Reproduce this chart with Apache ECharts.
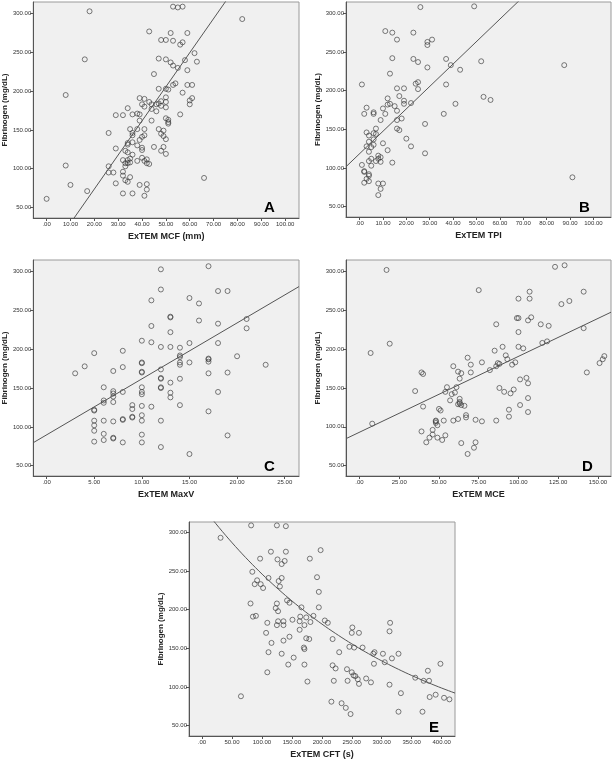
<!DOCTYPE html>
<html>
<head>
<meta charset="utf-8">
<style>
html,body{margin:0;padding:0;background:#fff;}
#chart{width:613px;height:760px;}
</style>
<script src="https://cdn.jsdelivr.net/npm/echarts@6/dist/echarts.min.js"></script>
</head>
<body>
<div id="chart"></div>
<script>
// ExTEM parameters against fibrinogen (mg/dL), [x, fibrinogen]
var mcfData = [[0,61],[18,303],[8,195],[16,241],[8,104],[10,79],[17,71],[82,293],[66,88],[53,309],[55,308],[57,309],[43,277],[52,275],[59,275],[48,266],[50,266],[53,265],[57,263],[56,260],[62,249],[47,242],[50,241],[52,237],[53,233],[58,240],[55,230],[63,238],[59,227],[45,222],[53,208],[54,210],[59,208],[61,208],[47,203],[50,203],[51,202],[57,198],[50,192],[60,188],[61,191],[60,183],[39,191],[41,190],[43,186],[44,183],[46,183],[47,184],[48,187],[50,186],[40,183],[41,180],[48,181],[50,179],[44,177],[34,178],[29,169],[32,169],[38,171],[39,170],[36,170],[46,174],[56,170],[50,165],[51,163],[51,160],[51,158],[44,162],[39,162],[35,151],[36,146],[38,151],[41,151],[47,151],[49,149],[48,145],[49,142],[50,138],[26,146],[36,143],[41,143],[40,141],[34,133],[34,131],[36,134],[38,130],[39,137],[40,127],[40,124],[45,128],[49,128],[48,123],[50,119],[29,126],[33,123],[34,121],[36,118],[26,103],[26,95],[28,95],[32,111],[34,111],[35,113],[33,103],[34,107],[35,108],[33,107],[38,110],[40,114],[41,110],[42,112],[42,107],[43,106],[32,96],[32,91],[35,89],[33,85],[34,83],[29,81],[39,79],[42,80],[42,73],[32,68],[36,68],[41,65]];
var tpiData = [[26,308],[49,309],[11,277],[14,275],[23,275],[16,266],[31,266],[29,263],[29,259],[14,242],[23,241],[25,237],[37,241],[39,233],[43,227],[29,230],[52,238],[87.5,233],[91,88],[13,222],[1,208],[24,209],[25,211],[37,208],[16,203],[19,203],[25,202],[12,190],[17,193],[19,187],[19,183],[12,182],[13,183],[15,180],[22,184],[41,183],[53,192],[56,188],[3,178],[10,177],[16,174],[2,170],[6,170],[6,172],[11,170],[36,170],[9,162],[16,162],[18,164],[28,157],[3,146],[4,142],[6,145],[7,144],[7,151],[6,137],[16,151],[17,149],[20,138],[10,132],[12,123],[22,128],[28,119],[6,130],[4,134],[3,128],[4,121],[5,127],[4,109],[5,112],[7,109],[8,112],[9,114],[8,116],[9,108],[5,103],[14,107],[1,104],[2,96],[2,95],[4,92],[4,90],[3,86],[2,81],[4,83],[8,80],[10,80],[9,73],[8,65]];
var maxvData = [[12,303],[17,307],[12,277],[18,275],[19,275],[11,263],[15,266],[16,259],[13,242],[13,241],[16,237],[18,233],[21,239],[21,227],[11,230],[13,222],[10,211],[11,209],[12,203],[13,203],[14,202],[15,208],[18,208],[20,191],[14,192],[14,190],[8,198],[5,195],[4,178],[3,169],[7,172],[8,177],[10,183],[10,182],[14,183],[14,180],[15,183],[17,188],[17,187],[17,184],[23,180],[12,174],[10,171],[10,170],[17,169],[19,170],[12,162],[12,163],[14,162],[13,157],[6,151],[10,151],[12,151],[12,150],[18,145],[7,146],[7,143],[7,139],[7,132],[8,145],[10,145],[10,142],[13,144],[13,138],[6,134],[6,131],[9,128],[9,123],[10,127],[11,126],[14,128],[17,120],[5,122],[5,121],[9,113],[9,112],[8,110],[8,109],[10,115],[10,108],[12,108],[5,108],[6,108],[7,107],[5,102],[5,95],[6,91],[10,90],[19,89],[7,86],[7,85],[5,81],[6,83],[8,80],[10,80],[12,74],[15,65]];
var mceData = [[17,302],[7,195],[19,207],[8,104],[123,306],[129,308],[75,276],[107,274],[107,265],[100,265],[141,274],[127,258],[132,262],[86,232],[99,240],[100,240],[106,237],[108,241],[114,232],[119,230],[100,222],[141,227],[115,208],[118,210],[90,203],[100,203],[103,201],[85,198],[92,192],[93,187],[68,189],[77,183],[87,182],[88,181],[86,178],[82,173],[70,180],[70,170],[96,180],[98,183],[59,178],[62,171],[64,169],[39,170],[40,168],[143,170],[151,182],[153,187],[154,191],[63,162],[105,163],[106,156],[101,161],[88,150],[97,148],[91,145],[95,143],[55,151],[54,145],[60,144],[58,142],[61,151],[35,146],[57,134],[63,136],[63,132],[63,130],[62,129],[64,128],[66,127],[106,137],[101,128],[40,126],[50,123],[51,121],[94,122],[94,113],[106,119],[67,115],[67,112],[48,108],[48,107],[48,105],[49,102],[53,108],[59,108],[62,110],[73,109],[77,107],[86,108],[39,94],[46,96],[46,90],[44,86],[49,86],[54,89],[42,80],[52,83],[64,79],[73,80],[72,73],[68,65]];
var cftData = [[31,293],[82,309],[125,309],[140,308],[65,88],[115,275],[140,275],[198,277],[97,266],[126,265],[138,263],[133,259],[180,266],[84,249],[92,238],[88,233],[98,233],[102,228],[111,241],[128,237],[133,241],[130,230],[192,242],[195,223],[81,208],[125,208],[123,202],[127,198],[142,212],[146,209],[195,203],[166,203],[85,191],[90,192],[127,185],[136,185],[136,180],[109,183],[125,180],[151,187],[164,191],[163,185],[174,190],[186,192],[181,184],[205,186],[210,183],[163,174],[171,180],[107,170],[146,165],[136,160],[174,163],[179,162],[170,151],[171,149],[111,145],[116,157],[133,143],[153,138],[144,129],[171,129],[109,119],[176,107],[251,177],[250,170],[262,170],[218,162],[246,152],[254,151],[268,151],[229,145],[286,143],[288,145],[302,143],[313,172],[314,183],[328,143],[305,132],[317,137],[287,130],[218,128],[223,124],[242,123],[250,119],[256,114],[260,110],[253,115],[262,104],[220,108],[243,108],[274,111],[282,106],[313,103],[332,92],[356,112],[370,108],[379,108],[377,121],[398,130],[380,87],[390,90],[404,86],[413,84],[216,81],[233,79],[240,73],[248,65],[328,68],[368,68]];

// fitted lines: linear [intercept, slope], exponential [a, b] (y = a*e^(b*x))
var mcfFit = [-14.4, 4.40];
var tpiFit = [118.5, 2.90];
var maxvFit = [89.7, 7.21];
var mceFit = [93.0, 0.977];
var cftFit = [334, -0.00305];

// tick labels
var yTicks = [50, 100, 150, 200, 250, 300];
var mcfTicks = [0, 10, 20, 30, 40, 50, 60, 70, 80, 90, 100];
var tpiTicks = [0, 10, 20, 30, 40, 50, 60, 70, 80, 90, 100];
var maxvTicks = [0, 5, 10, 15, 20, 25];
var mceTicks = [0, 25, 50, 75, 100, 125, 150];
var cftTicks = [0, 50, 100, 150, 200, 250, 300, 350, 400];

var FONT = 'Arial, "Liberation Sans", sans-serif';

var panels = [
  {grid: {left: 33, top: 2, width: 266, height: 216}, x: [-5.6, 105.8], y: [36.3, 315], ticks: mcfTicks, name: 'ExTEM MCF (mm)', data: mcfData, fit: mcfFit, type: 'lin', letter: 'A', lpos: [264, 200]},
  {grid: {left: 346, top: 2, width: 265, height: 215}, x: [-5.8, 107.5], y: [36.7, 314.6], ticks: tpiTicks, name: 'ExTEM TPI', data: tpiData, fit: tpiFit, type: 'lin', letter: 'B', lpos: [579, 200]},
  {grid: {left: 33, top: 260, width: 266, height: 216}, x: [-1.4, 26.5], y: [36.7, 315], ticks: maxvTicks, name: 'ExTEM MaxV', data: maxvData, fit: maxvFit, type: 'lin', letter: 'C', lpos: [264, 459]},
  {grid: {left: 346, top: 260, width: 265, height: 216}, x: [-8.5, 158.2], y: [36.6, 314.8], ticks: mceTicks, name: 'ExTEM MCE', data: mceData, fit: mceFit, type: 'lin', letter: 'D', lpos: [582, 459]},
  {grid: {left: 189, top: 522, width: 266, height: 214}, x: [-21.7, 422.3], y: [36.6, 313.4], ticks: cftTicks, name: 'ExTEM CFT (s)', data: cftData, fit: cftFit, type: 'exp', letter: 'E', lpos: [429, 720]}
];

function fmt(v) {
  return v === 0 ? '.00' : v.toFixed(2);
}

function fitLine(p) {
  var pts = [];
  var n = p.type === 'lin' ? 1 : 80;
  for (var i = 0; i <= n; i++) {
    var xv = p.x[0] + (p.x[1] - p.x[0]) * i / n;
    var yv = p.type === 'lin' ? p.fit[0] + p.fit[1] * xv : p.fit[0] * Math.exp(p.fit[1] * xv);
    pts.push([xv, yv]);
  }
  return pts;
}

var option = {
  animation: false,
  backgroundColor: '#fff',
  title: [], grid: [], xAxis: [], yAxis: [], series: []
};

panels.forEach(function (p, i) {
  option.grid.push(Object.assign({
    show: true, backgroundColor: '#f0f0f0', borderColor: '#9a9a9a', borderWidth: 1
  }, p.grid));

  option.xAxis.push({
    type: 'value', gridIndex: i, min: p.x[0], max: p.x[1],
    name: p.name, nameLocation: 'middle', nameGap: 14,
    nameTextStyle: {fontFamily: FONT, fontWeight: 'bold', fontSize: 9, color: '#222'},
    axisLine: {show: true, onZero: false, lineStyle: {color: '#555', width: 1}},
    axisTick: {show: true, length: 3, customValues: p.ticks, lineStyle: {color: '#555'}},
    axisLabel: {customValues: p.ticks, formatter: fmt, fontFamily: FONT, fontSize: 6, color: '#333', margin: 3},
    splitLine: {show: false}
  });

  option.yAxis.push({
    type: 'value', gridIndex: i, min: p.y[0], max: p.y[1],
    name: 'Fibrinogen (mg/dL)', nameLocation: 'middle', nameGap: 22,
    nameTextStyle: {fontFamily: FONT, fontWeight: 'bold', fontSize: 8, color: '#222'},
    axisLine: {show: true, onZero: false, lineStyle: {color: '#555', width: 1}},
    axisTick: {show: true, length: 3, customValues: yTicks, lineStyle: {color: '#555'}},
    axisLabel: {customValues: yTicks, formatter: fmt, fontFamily: FONT, fontSize: 6, color: '#333', margin: 2},
    splitLine: {show: false}
  });

  option.series.push({
    type: 'scatter', xAxisIndex: i, yAxisIndex: i,
    symbol: 'circle', symbolSize: 5,
    itemStyle: {color: 'rgba(0,0,0,0)', borderColor: '#333', borderWidth: 0.8},
    data: p.data
  });

  option.series.push({
    type: 'line', xAxisIndex: i, yAxisIndex: i,
    showSymbol: false, clip: true, smooth: false,
    lineStyle: {color: '#555', width: 1},
    data: fitLine(p)
  });

  option.title.push({
    text: p.letter, left: p.lpos[0], top: p.lpos[1], padding: 0,
    textStyle: {fontFamily: FONT, fontWeight: 'bold', fontSize: 15, color: '#000'}
  });
});

var chart = echarts.init(document.getElementById('chart'));
chart.setOption(option);
</script>
</body>
</html>
